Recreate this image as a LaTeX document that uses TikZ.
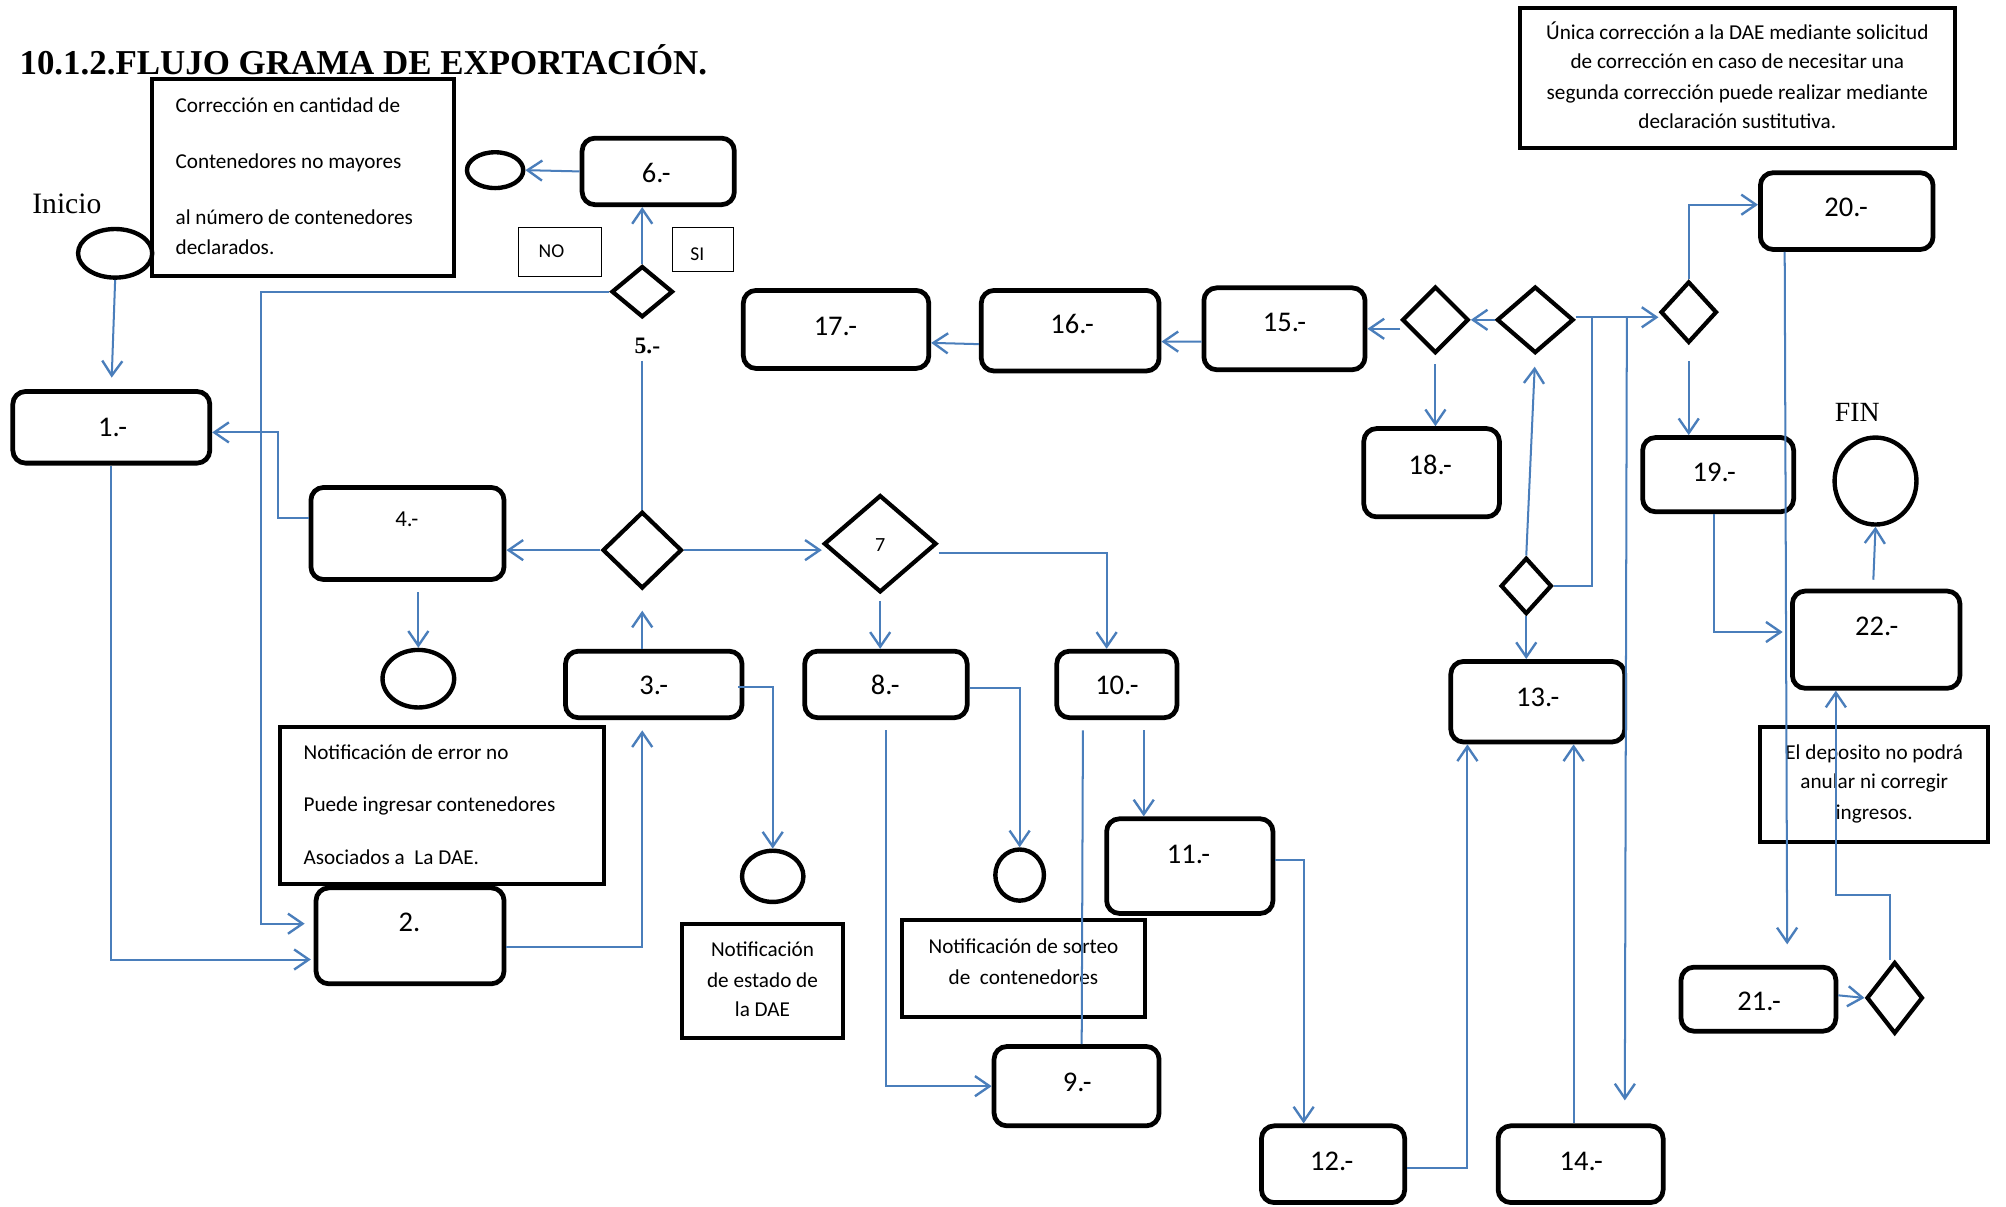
\documentclass[tikz,border=0pt]{standalone}
\usepackage{fontspec}
\setmainfont{Carlito}
\newfontfamily\tnr{Liberation Serif}
\usetikzlibrary{shapes.geometric,arrows.meta,calc}
\definecolor{arrblue}{HTML}{4A7EBB}
\newcommand\lblfont{\fontsize{15.6}{18}\selectfont}
\newcommand\notefont{\fontsize{11.6}{14}\selectfont}
\newcommand\mkbox[6]{\node[#6, minimum width={(#4-#2)*0.7pt}, minimum height={(#5-#3)*0.7pt}] (#1) at ({(#2+#4)/2},{(#3+#5)/2}) {};}
\begin{document}
\begin{tikzpicture}[x=0.7pt,y=-0.7pt,
  box/.style={draw, line width=2.6pt, rounded corners=7pt, inner sep=0pt},
  note/.style={draw, line width=2.2pt, inner sep=0pt},
  thinbox/.style={draw, line width=0.6pt, inner sep=0pt},
  dec/.style={draw, diamond, line width=2.3pt, inner sep=0pt},
  term/.style={draw, ellipse, line width=2.4pt, inner sep=0pt},
  lbl/.style={inner sep=0pt, text height=9.8pt, text depth=0pt, font=\lblfont},
  ntxt/.style={inner sep=0pt, text height=6.4pt, text depth=0pt, font=\notefont},
  conn/.style={draw=arrblue, line width=1.1pt},
  arr/.style={conn, -{Straight Barb[length=8pt,width=11pt,line width=1.3pt]}}]
\fill[white] (0,0) rectangle (1568,943);
\useasboundingbox (0,0) rectangle (1568,943);

% title and texts
\node[anchor=west, inner sep=0pt, text height=12.6pt, text depth=0pt, font=\tnr\bfseries\fontsize{19.1}{22}\selectfont] (title) at (15,49) {10.1.2.FLUJO GRAMA DE EXPORTACIÓN.};
\node[anchor=west, inner sep=0pt, text height=10.7pt, text depth=0pt, font=\tnr\fontsize{16.2}{19}\selectfont] (inicio) at (25,159) {Inicio};
\node[anchor=west, inner sep=0pt, text height=10pt, text depth=0pt, font=\tnr\fontsize{15.2}{18}\selectfont] (fintxt) at (1434,322) {FIN};

% terminals
\mkbox{start}{61}{179}{119}{217}{term}
\mkbox{c6}{365}{119}{409}{147}{term}
\mkbox{c4}{299}{508}{355}{553}{term}
\mkbox{c3}{580}{665}{628}{705}{term}
\mkbox{c8}{778}{664}{816}{704}{term}
\mkbox{fin}{1434}{342}{1498}{410}{term}

% decisions
\mkbox{d5}{478}{208}{526}{248}{dec}
\mkbox{dbig}{471}{400}{533}{460}{dec}
\mkbox{d7}{644}{387}{732}{463}{dec}
\mkbox{d13}{1173}{436}{1213}{480}{dec}
\mkbox{dA}{1170}{224}{1230}{276}{dec}
\mkbox{dB}{1096}{224}{1148}{276}{dec}
\mkbox{dC}{1298}{220}{1342}{268}{dec}
\mkbox{dD}{1459}{752}{1503}{808}{dec}
\node[inner sep=0pt, text height=6.9pt, text depth=0pt, font=\fontsize{11}{13}\selectfont] (t7) at (688,426) {7};
\node[inner sep=0pt, text height=8.5pt, text depth=0pt, font=\tnr\bfseries\fontsize{12.9}{15}\selectfont] (l5) at (506,270) {5.-};

% process boxes
\mkbox{b1}{10}{306}{164}{362}{box}
\mkbox{b6}{455}{108}{574}{160}{box}
\mkbox{b4}{243}{381}{394}{453}{box}
\mkbox{b3}{442}{509}{580}{561}{box}
\mkbox{b2}{247}{694}{394}{769}{box}
\mkbox{b8}{629}{509}{756}{561}{box}
\mkbox{b10}{826}{509}{920}{561}{box}
\mkbox{b9}{777}{818}{906}{880}{box}
\mkbox{b11}{865}{640}{995}{714}{box}
\mkbox{b12}{986}{880}{1098}{940}{box}
\mkbox{b13}{1134}{517}{1270}{580}{box}
\mkbox{b14}{1171}{880}{1300}{940}{box}
\mkbox{b15}{941}{225}{1067}{289}{box}
\mkbox{b16}{767}{227}{906}{290}{box}
\mkbox{b17}{581}{227}{726}{288}{box}
\mkbox{b18}{1066}{335}{1172}{404}{box}
\mkbox{b19}{1284}{342}{1402}{400}{box}
\mkbox{b20}{1376}{135}{1511}{195}{box}
\mkbox{b21}{1314}{756}{1435}{806}{box}
\mkbox{b22}{1401}{462}{1532}{538}{box}

\node[lbl] (t1) at (88,334) {1.-};
\node[lbl] (t6) at (513,136) {6.-};
\node[inner sep=0pt, text height=7.9pt, text depth=0pt, font=\fontsize{12.5}{15}\selectfont] (t4) at (318,406) {4.-};
\node[lbl] (t3) at (511,536) {3.-};
\node[lbl] (t2) at (320,721) {2.};
\node[lbl] (t8) at (692,536) {8.-};
\node[lbl] (t10) at (873,536) {10.-};
\node[lbl] (t9) at (842,846) {9.-};
\node[lbl] (t11) at (929,668) {11.-};
\node[lbl] (t12) at (1041,908) {12.-};
\node[lbl] (t13) at (1202,545) {13.-};
\node[lbl] (t14) at (1236,908) {14.-};
\node[lbl] (t15) at (1004,252) {15.-};
\node[lbl] (t16) at (838,254) {16.-};
\node[lbl] (t17) at (653,255) {17.-};
\node[lbl] (t18) at (1118,364) {18.-};
\node[lbl] (t19) at (1340,369) {19.-};
\node[lbl] (t20) at (1443,162) {20.-};
\node[lbl] (t21) at (1375,783) {21.-};
\node[lbl] (t22) at (1467,490) {22.-};

% notes
\mkbox{nA}{119}{62}{355}{216}{note}
\node[ntxt, anchor=west] (nA1) at (137,83) {Corrección en cantidad de};
\node[ntxt, anchor=west] (nA2) at (137,127) {Contenedores no mayores};
\node[ntxt, anchor=west] (nA3) at (137,171) {al número de contenedores};
\node[ntxt, anchor=west] (nA4) at (137,194) {declarados.};

\mkbox{nB}{219}{568}{472}{691}{note}
\node[ntxt, anchor=west] (nB1) at (237,589) {Notificación de error no};
\node[ntxt, anchor=west] (nB2) at (237,630) {Puede ingresar contenedores};
\node[ntxt, anchor=west] (nB3) at (237,671) {Asociados a\ \ La DAE.};

\mkbox{nC}{533}{722}{659}{811}{note}
\node[ntxt] (nC1) at (596,743) {Notificación};
\node[ntxt] (nC2) at (596,767) {de estado de};
\node[ntxt] (nC3) at (596,790) {la DAE};

\mkbox{nD}{705}{719}{895}{795}{note}
\node[ntxt] (nD1) at (800,741) {Notificación de sorteo};
\node[ntxt] (nD2) at (800,765) {de\ \ contenedores};

\mkbox{nE}{1376}{568}{1554}{658}{note}
\node[ntxt] (nE1) at (1465,589) {El deposito no podrá};
\node[ntxt] (nE2) at (1465,612) {anular ni corregir};
\node[ntxt] (nE3) at (1465,636) {ingresos.};

\mkbox{nF}{1188}{6}{1528}{116}{note}
\node[ntxt] (nF1) at (1358,26) {Única corrección a la DAE mediante solicitud};
\node[ntxt] (nF2) at (1358,49) {de corrección en caso de necesitar una};
\node[ntxt] (nF3) at (1358,73) {segunda corrección puede realizar mediante};
\node[ntxt] (nF4) at (1358,96) {declaración sustitutiva.};

% NO / SI
\mkbox{no}{405}{178}{470}{216}{thinbox}
\node[inner sep=0pt, text height=6.9pt, text depth=0pt, font=\fontsize{10.7}{13}\selectfont] (notxt) at (431,196) {NO};
\begin{scope}
\clip (527,179) rectangle (572,204);
\node[inner sep=0pt, text height=6.9pt, text depth=0pt, font=\fontsize{10.7}{13}\selectfont] (sitxt) at (545,199) {SI};
\end{scope}
\mkbox{si}{526}{178}{573}{212}{thinbox}

% connectors
\draw[arr, shorten >=6.3pt] (start.south) -- (b1.north);
\draw[arr] (b6.west) -- (c6.east);
\draw[arr] (d5.north) -- (d5.north |- b6.south);
\draw[arr, shorten >=4.9pt] (d5.west) -- ++(-272,0) |- ($(b2.west)+(0,-9.5)$);
\draw[arr, shorten >=1.5pt] (b1.south) |- ($(b2.west)+(0,18.5)$);
\draw[arr] ($(b4.west)+(0,-12)$) -- ++(-24,0) |- ($(b1.east)+(0,4)$);
\draw[conn, shorten <=4pt] (dbig.north |- l5.south) -- (dbig.north);
\draw[arr] (dbig.west) -- (dbig.west -| b4.east);
\draw[arr] (dbig.east) -- (dbig.east -| d7.west);
\draw[arr, shorten <=5.6pt] (c4.north |- b4.south) -- (c4.north);
\draw[arr, shorten >=11pt] (dbig.south |- b3.north) -- (dbig.south);
\draw[arr, shorten >=5.6pt] ($(b2.east)+(0,8.5)$) -| (dbig.south |- b3.south);
\draw[arr] ($(b3.east)+(-5,2)$) -| (c3.north);
\draw[arr, shorten <=3.5pt] (d7.south) -- (d7.south |- b8.north);
\draw[arr] ($(d7.east)+(0,7)$) -| ($(b10.north)+(-8,0)$);
\draw[arr] ($(b8.east)+(0,3)$) -| (c8.north);
\draw[arr, shorten <=5.6pt] (b8.south) |- (b9.west);
\draw[conn, shorten >=5.6pt] ($(b9.north)+(4,0)$) -- ($(b9.north |- b10.south)+(5,0)$);
\draw[arr, shorten <=5.6pt] ($(b10.south)+(21,0)$) -- ($(b11.north)+(-36,0)$);
\draw[arr] ($(b11.east)+(0,-5)$) -| ($(b12.north)+(-23,0)$);
\draw[arr] ($(b12.east)+(0,3)$) -| ($(b13.south)+(-55,0)$);
\draw[arr] ($(b14.north)+(-5.5,0)$) -- ($(b13.south)+(28,0)$);
\draw[arr] (d13.south) -- (d13.south |- b13.north);
\draw[conn] (d13.east) -| ($(dA.east)+(13,-2)$);
\draw[arr, shorten >=6.3pt] (d13.north) -- (dA.south);
\draw[arr] (dA.west) -- (dB.east);
\draw[arr] (b15.east -| dB.west) -- (b15.east);
\draw[arr, shorten <=4.9pt] (dB.south) -- (dB.south |- b18.north);
\draw[arr] ($(b15.west)+(0,10)$) -- ($(b16.east)+(0,8.5)$);
\draw[arr] ($(b16.west)+(0,10.5)$) -- ($(b17.east)+(0,10.5)$);
\draw[arr] ($(dA.east)+(0,-2)$) -- ($(dC.west)+(0,4)$);
\draw[arr, shorten >=12.6pt] ($(dA.east)+(40,-2)$) -- ($(b14.north)+(34.5,0)$);
\draw[arr] (dC.north) |- ($(b20.west)+(0,-5)$);
\draw[arr, shorten <=9pt] (dC.south) -- (dC.south |- b19.north);
\draw[arr, shorten >=11.2pt] ($(b20.south)+(-48.5,0)$) -- ($(b21.north)+(22.5,0)$);
\draw[arr] ($(b21.east)+(0,-3)$) -- (dD.west);
\draw[arr] ($(dD.north)+(-4,0)$) -- ++(0,-51) -| ($(b22.south)+(-31.5,0)$);
\draw[arr, shorten >=4pt] ($(b19.south)+(-3,0)$) |- ($(b22.west)+(0,-6)$);
\draw[arr, shorten <=4.9pt] ($(b22.north)+(-2.5,0)$) -- (fin.south);
\end{tikzpicture}
\end{document}
